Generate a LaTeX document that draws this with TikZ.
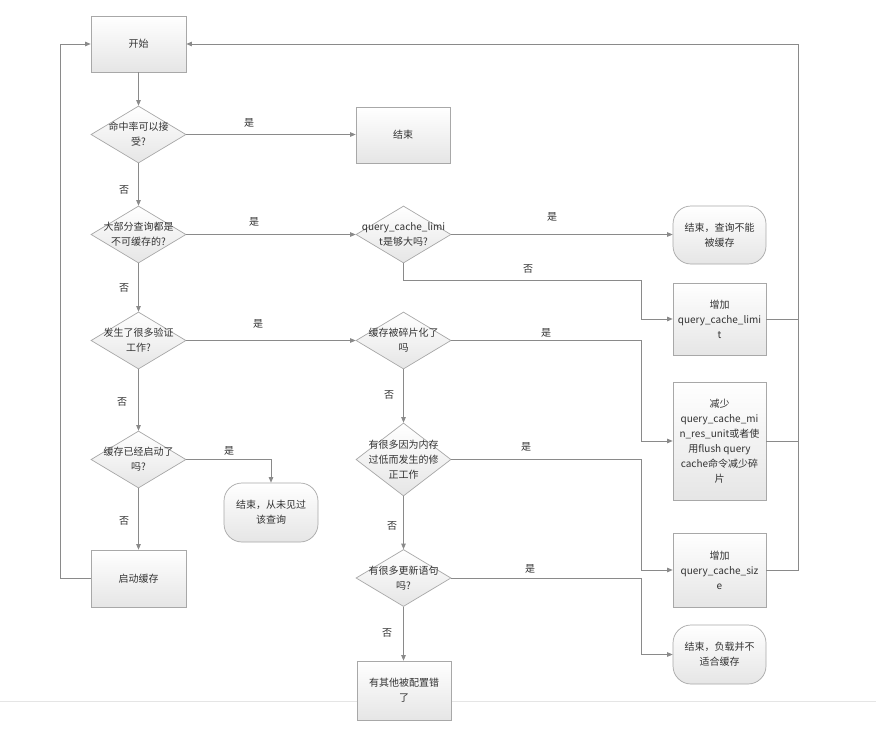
\documentclass[tikz,border=0pt]{standalone}
\usepackage{fontspec}
\setmainfont{Noto Sans CJK SC}
\usetikzlibrary{shapes.geometric,arrows.meta}

\definecolor{linegray}{HTML}{8A8A8A}
\definecolor{edgegray}{HTML}{A8A8A8}
\definecolor{txt}{HTML}{333333}

\tikzset{
  base/.style={draw=edgegray, line width=0.7pt, top color=white, bottom color=black!10,
    text=txt, font=\fontsize{10}{15}\selectfont, align=center, inner sep=0pt},
  procbox/.style={base, rectangle},
  termbox/.style={base, rectangle, rounded corners=18pt},
  decision/.style={base, diamond, minimum width=95pt},
  dtext/.style={text=txt, font=\fontsize{10}{15}\selectfont, align=center, inner sep=0pt},
  lab/.style={text=txt, font=\fontsize{10}{12}\selectfont, inner sep=0pt},
  flow/.style={draw=linegray, line width=0.7pt, -{Triangle[length=5.5pt,width=4.5pt]}},
  plain/.style={draw=linegray, line width=0.7pt},
}

\begin{document}
\begin{tikzpicture}[x=1pt, y=-1pt]
\useasboundingbox[fill=white] (0,0) rectangle (876,729);

% faint page separator
\draw[black!10, line width=0.6pt] (0,701) -- (876,701);

% left column
\node[procbox, minimum width=95pt, minimum height=56pt] (start) at (138.5,44) {开始};
\node[decision, minimum height=57pt] (d1) at (138.5,134.5) {};
\node[dtext] (d1t) at (d1) {命中率可以接\\受?};
\node[decision, minimum height=57pt] (d2) at (138.5,234.5) {};
\node[dtext] (d2t) at (d2) {大部分查询都是\\不可缓存的?};
\node[decision, minimum height=57pt] (d4) at (138.5,340.5) {};
\node[dtext] (d4t) at (d4) {发生了很多验证\\工作?};
\node[decision, minimum height=57pt] (d8) at (138.5,459.5) {};
\node[dtext] (d8t) at (d8) {缓存已经启动了\\吗?};
\node[procbox, minimum width=95pt, minimum height=57pt] (enable) at (138.5,578.5) {启动缓存};
\node[termbox, minimum width=94pt, minimum height=59pt] (endn) at (271,512.5) {结束，从未见过\\该查询};

% middle column
\node[procbox, minimum width=94pt, minimum height=56pt] (end1) at (403,135) {结束};
\node[decision, minimum height=57pt] (d3) at (403.5,234.5) {};
\node[dtext] (d3t) at (d3) {query\_cache\_limi\\t是够大吗?};
\node[decision, minimum height=57pt] (d5) at (403.5,340.5) {};
\node[dtext] (d5t) at (d5) {缓存被碎片化了\\吗};
\node[decision, minimum height=73pt] (d6) at (403.5,459.5) {};
\node[dtext] (d6t) at (d6) {有很多因为内存\\过低而发生的修\\正工作};
\node[decision, minimum height=57pt] (d7) at (403.5,578) {};
\node[dtext] (d7t) at (d7) {有很多更新语句\\吗?};
\node[procbox, minimum width=94pt, minimum height=59pt] (other) at (404,690.5) {有其他被配置错\\了};

% right column
\node[termbox, minimum width=93pt, minimum height=58pt] (endc) at (719.5,235) {结束，查询不能\\被缓存};
\node[procbox, minimum width=93pt, minimum height=72pt] (incl) at (719.5,319) {增加\\query\_cache\_limi\\t};
\node[procbox, minimum width=93pt, minimum height=118pt] (reduce) at (719.5,441) {减少\\query\_cache\_mi\\n\_res\_unit或者使\\用flush query\\cache命令减少碎\\片};
\node[procbox, minimum width=93pt, minimum height=74pt] (incs) at (719.5,570) {增加\\query\_cache\_siz\\e};
\node[termbox, minimum width=93pt, minimum height=59pt] (endl) at (719.5,654.5) {结束，负载并不\\适合缓存};

\coordinate (rail) at (798,44);
\coordinate (lrail) at (60,44);

% vertical flow, left column
\draw[flow] (start) -- (d1);
\draw[flow] (d1) -- (d2);
\draw[flow] (d2) -- (d4);
\draw[flow] (d4) -- (d8);
\draw[flow] (d8) -- (enable);

% vertical flow, middle column
\draw[flow] (d5) -- (d6);
\draw[flow] (d6) -- (d7);
\draw[flow] (d7.south) -- (d7.south |- other.north);

% yes branches
\draw[flow] (d1.east) -- (end1.west |- d1.east);
\draw[flow] (d2.east) -- (d3.west);
\draw[flow] (d3.east) -- (endc.west |- d3.east);
\draw[flow] (d4.east) -- (d5.west);
\draw[flow] (d8.east) -| (endn.north);
\draw[flow] (d5.east) -- (641,340.5) |- (reduce.west);
\draw[flow] (d6.east) -- (641,459.5) |- (incs.west);
\draw[flow] (d7.east) -- (641,578) |- (endl.west);

% no branch of the limit check
\draw[flow] (d3.south) -- (403.5,280) -- (641,280) |- (incl.west);

% loops back to the start
\draw[flow] (enable.west) -| (lrail) -- (start.west);
\draw[plain] (incl.east) -- (incl.east -| rail);
\draw[plain] (reduce.east) -- (reduce.east -| rail);
\draw[flow] (incs.east) -| (rail) -- (start.east);

% branch labels
\node[lab] (y1) at (249,123) {是};
\node[lab] (n1) at (124,190) {否};
\node[lab] (y2) at (254,222) {是};
\node[lab] (y3) at (552,217) {是};
\node[lab] (n3) at (528,269) {否};
\node[lab] (n2) at (124,288) {否};
\node[lab] (y4) at (258,324) {是};
\node[lab] (y5) at (546,333) {是};
\node[lab] (n5) at (389,395) {否};
\node[lab] (n4) at (122,402) {否};
\node[lab] (y6) at (526,447) {是};
\node[lab] (y8) at (229,451) {是};
\node[lab] (n8) at (124,521) {否};
\node[lab] (n6) at (392,526) {否};
\node[lab] (y7) at (530,569) {是};
\node[lab] (n7) at (387,633) {否};
\end{tikzpicture}
\end{document}
